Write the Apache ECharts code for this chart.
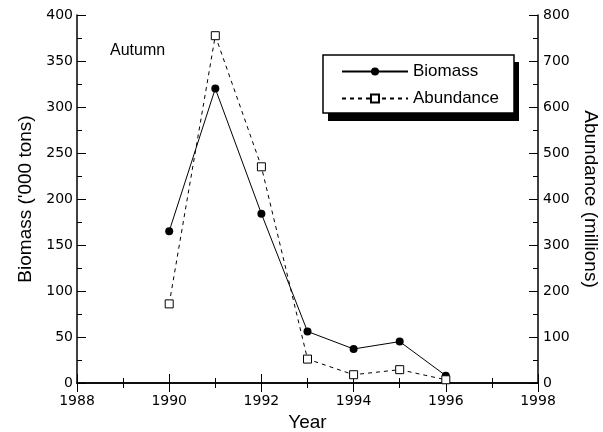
<!DOCTYPE html>
<html lang="en">
<head>
  <meta charset="UTF-8">
  <title>Autumn</title>
  <script src="https://cdn.jsdelivr.net/npm/echarts@6/dist/echarts.min.js"></script>
</head>
<style>
    body { margin: 0; background: #fff; }
    #main { width: 603px; height: 432px; }
</style>
<body>
<div id="main"></div>
<script>
  let years = [1990, 1991, 1992, 1993, 1994, 1995, 1996]
  let biomass = [165, 320, 184, 56, 37, 45, 8]        // '000 tons
  let abundance = [172, 755, 470, 52, 18, 29, 7]      // millions

  const font = 'Liberation Sans, Arial, sans-serif'
  const tickFont = 'DejaVu Sans, sans-serif'
  const pair = (xs, ys) => xs.map((x, i) => [x, ys[i]])

  // shared look for all four frame axes
  const tick = { show: true, inside: true, length: 9, lineStyle: { color: '#000', width: 1 } }
  const minor = { show: true, splitNumber: 2, length: 5, lineStyle: { color: '#000', width: 1 } }
  const line = { show: true, lineStyle: { color: '#000', width: 1.5 } }

  const chart = echarts.init(document.getElementById('main'))
  chart.setOption({
    animation: false,
    backgroundColor: '#fff',
    textStyle: { fontFamily: font, color: '#000' },
    grid: { left: 77, right: 65, top: 15, bottom: 49, outerBoundsMode: 'none', containLabel: false },
    graphic: [
      { type: 'text', left: 110, top: 43, style: { text: 'Autumn', font: '16px ' + font, fill: '#000' } },
      // legend frame with its hard drop shadow
      { type: 'rect', shape: { x: 328, y: 62, width: 191, height: 59 }, style: { fill: '#000' }, z: 5 },
      { type: 'rect', shape: { x: 323, y: 55, width: 191, height: 58 }, style: { fill: '#fff', stroke: '#000', lineWidth: 1.5 }, z: 6 }
    ],
    legend: {
      left: 323, top: 55, orient: 'vertical',
      padding: [8, 14, 6, 18],
      itemGap: 10,
      itemWidth: 66, itemHeight: 10,
      z: 10,
      textStyle: { fontSize: 17, fontFamily: font, color: '#000' },
      data: ['Biomass', 'Abundance']
    },
    xAxis: [
      {
        type: 'value', min: 1988, max: 1998, interval: 2,
        name: 'Year', nameLocation: 'middle', nameGap: 29,
        nameTextStyle: { fontSize: 19, fontFamily: font },
        axisLine: line, axisTick: tick, minorTick: minor,
        axisLabel: { fontSize: 14, fontFamily: tickFont, color: '#000', margin: 11, formatter: v => String(v) },
        splitLine: { show: false }
      },
      {
        type: 'value', min: 1988, max: 1998, interval: 2, position: 'top',
        axisLine: line, axisTick: tick, minorTick: minor,
        axisLabel: { show: false },
        splitLine: { show: false }
      }
    ],
    yAxis: [
      {
        type: 'value', min: 0, max: 400, interval: 50,
        name: "Biomass ('000 tons)", nameLocation: 'middle', nameGap: 42,
        nameTextStyle: { fontSize: 19, fontFamily: font },
        axisLine: line, axisTick: tick, minorTick: minor,
        axisLabel: { fontSize: 14, fontFamily: tickFont, color: '#000', margin: 4 },
        splitLine: { show: false }
      },
      {
        type: 'value', min: 0, max: 800, interval: 100, position: 'right',
        name: 'Abundance (millions)', nameLocation: 'middle', nameGap: 41, nameRotate: -90,
        nameTextStyle: { fontSize: 19, fontFamily: font },
        axisLine: line, axisTick: tick, minorTick: minor,
        axisLabel: { fontSize: 14, fontFamily: tickFont, color: '#000', margin: 5 },
        splitLine: { show: false }
      }
    ],
    series: [
      {
        name: 'Biomass', type: 'line', yAxisIndex: 0,
        data: pair(years, biomass),
        symbol: 'circle', symbolSize: 8,
        itemStyle: { color: '#000' },
        lineStyle: { color: '#000', width: 1 }
      },
      {
        name: 'Abundance', type: 'line', yAxisIndex: 1,
        data: pair(years, abundance),
        symbol: 'rect', symbolSize: 8,
        itemStyle: { color: '#fff', borderColor: '#000', borderWidth: 1 },
        lineStyle: { color: '#000', width: 1, type: [4, 4] }
      }
    ]
  })
</script>
</body>
</html>
